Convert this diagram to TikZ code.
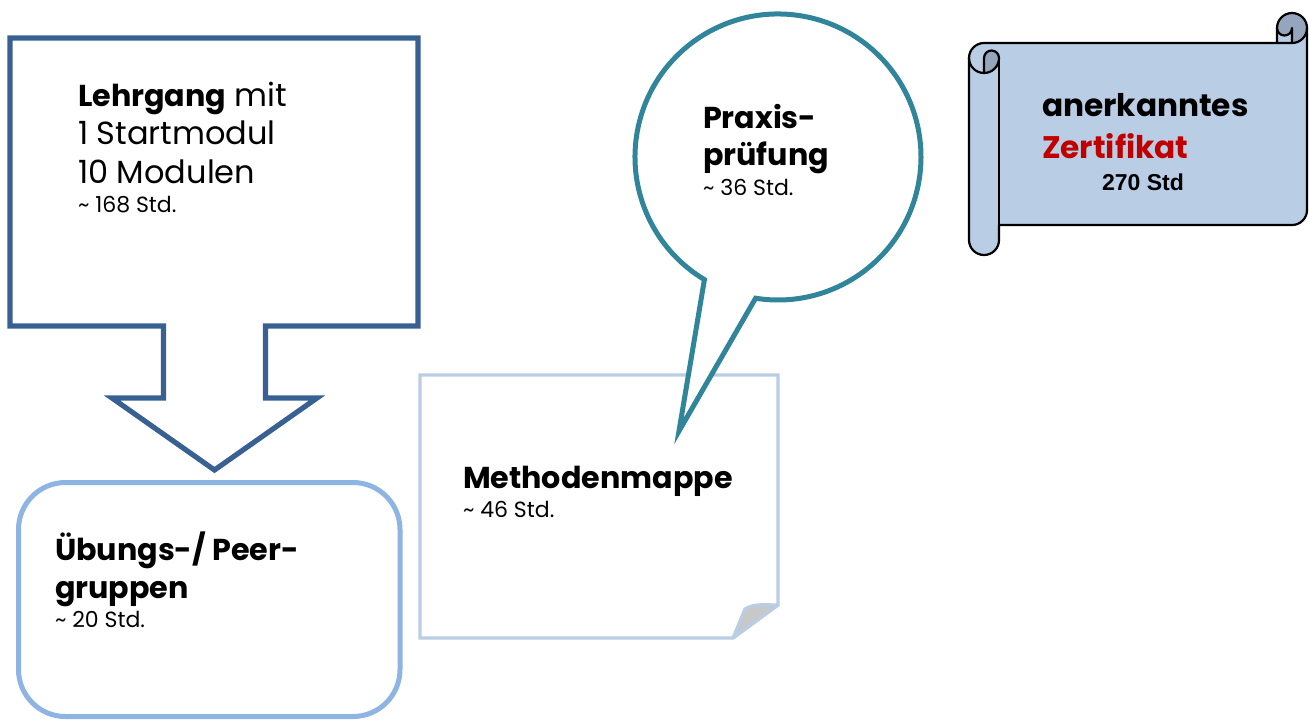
\documentclass[tikz,border=0pt]{standalone}
\usepackage{fontspec}
\setmainfont{Poppins}
\newfontfamily\stdfont{Liberation Sans}

\definecolor{arrowblue}{RGB}{56,96,146}
\definecolor{bubbleteal}{RGB}{49,133,155}
\definecolor{roundblue}{RGB}{141,180,226}
\definecolor{pageblue}{RGB}{185,205,229}
\definecolor{scrollfill}{RGB}{185,205,229}
\definecolor{scrolldark}{RGB}{148,165,188}
\definecolor{foldgray}{RGB}{200,200,200}
\definecolor{certred}{RGB}{192,0,0}

\tikzset{
  txt/.style={anchor=base west, inner sep=0pt, outer sep=0pt},
  big/.style={txt, font=\fontsize{16}{19}\selectfont},
  bigbold/.style={txt, font=\fontsize{15.1}{19}\selectfont\bfseries},
  small/.style={txt, font=\fontsize{11}{13}\selectfont},
  certbold/.style={txt, font=\fontsize{15.6}{20}\selectfont\bfseries},
  scrollline/.style={black, line width=1.1pt, line join=round},
}

\begin{document}
\begin{tikzpicture}[x=0.5pt, y=-0.5pt]
\useasboundingbox (0,0) rectangle (1309,720);

% Lehrgang: box with a downward arrow
\draw[arrowblue, line width=2.6pt, line join=miter, fill=white]
  (10,38) -- (418,38) -- (418,326) -- (265.5,326) -- (265.5,398)
  -- (317,398) -- (214.5,470) -- (112,398) -- (163.5,398)
  -- (163.5,326) -- (10,326) -- cycle;
\node[bigbold] (lg1) at (78,106) {Lehrgang\mdseries\fontsize{16}{19}\selectfont{} mit};
\node[big] (lg2) at (78,144) {1 Startmodul};
\node[big] (lg3) at (78,183) {10 Modulen};
\node[small] (lg4) at (78,212) {\textasciitilde{} 168 Std.};

% Practice groups: rounded box
\draw[roundblue, line width=2.5pt, rounded corners=23.5pt, fill=white]
  (18.5,482.5) rectangle (400,716.5);
\node[bigbold] (ug1) at (55,560) {Übungs-/ Peer-};
\node[bigbold] (ug2) at (55,598) {gruppen};
\node[small] (ug3) at (55,627) {\textasciitilde{} 20 Std.};

% Method folder: sheet with folded corner
\draw[pageblue, line width=1.6pt, line join=miter, fill=white]
  (420,375) -- (778,375) -- (778,605) -- (733,638) -- (420,638) -- cycle;
\draw[pageblue, line width=1.6pt, line join=round, fill=foldgray]
  (733,638) -- (745,609) .. controls (755,603) and (766,605) .. (778,605)
  -- cycle;
\node[bigbold] (mm1) at (463,488) {Methodenmappe};
\node[small] (mm2) at (463,517) {\textasciitilde{} 46 Std.};

% Practical exam: speech bubble
\draw[bubbleteal, line width=2.5pt, line join=miter, fill=white]
  (704.4,279.6) -- (679,431) -- (755.6,298.2)
  arc[start angle=99, end angle=-239, radius=143] -- cycle;
\node[bigbold] (pp1) at (703,128) {Praxis-};
\node[bigbold] (pp2) at (703,165) {prüfung};
\node[small] (pp3) at (703,195) {\textasciitilde{} 36 Std.};

% Certificate: horizontal scroll
\fill[scrollfill]
  (1307,28) arc[start angle=0, delta angle=90, radius=15]
  -- (1292,28) arc[start angle=0, delta angle=180, radius=7.5]
  -- (1277,43) -- (984,43)
  arc[start angle=270, delta angle=-90, radius=15]
  -- (969,240) arc[start angle=180, delta angle=-180, radius=15]
  -- (999,225) -- (1292,225)
  arc[start angle=90, delta angle=-90, radius=15] -- cycle;
\fill[scrolldark]
  (984,73) arc[start angle=90, delta angle=-90, radius=15]
  arc[start angle=0, delta angle=-180, radius=7.5] -- cycle;
\fill[scrolldark]
  (1292,43) arc[start angle=90, delta angle=-270, radius=15]
  arc[start angle=180, delta angle=-180, radius=7.5] -- cycle;
\draw[scrollline]
  (969,58) arc[start angle=180, delta angle=90, radius=15]
  -- (1277,43) -- (1277,28)
  arc[start angle=180, delta angle=180, radius=15]
  -- (1307,210) arc[start angle=0, delta angle=90, radius=15]
  -- (999,225) -- (999,240)
  arc[start angle=0, delta angle=180, radius=15] -- cycle;
\draw[scrollline]
  (1277,43) -- (1292,43) arc[start angle=90, delta angle=-90, radius=15];
\draw[scrollline]
  (1292,43) -- (1292,28) arc[start angle=0, delta angle=180, radius=7.5];
\draw[scrollline]
  (984,73) -- (984,58) arc[start angle=180, delta angle=180, radius=7.5]
  arc[start angle=0, delta angle=180, radius=15];
\draw[scrollline] (999,58) -- (999,225);
\node[certbold] (zc1) at (1042,116) {anerkanntes};
\node[certbold, text=certred] (zc2) at (1042,158) {Zertifikat};
\node[txt, font=\stdfont\fontsize{11.5}{14}\selectfont\bfseries] (zc3) at (1102,190) {270 Std};
\end{tikzpicture}
\end{document}
